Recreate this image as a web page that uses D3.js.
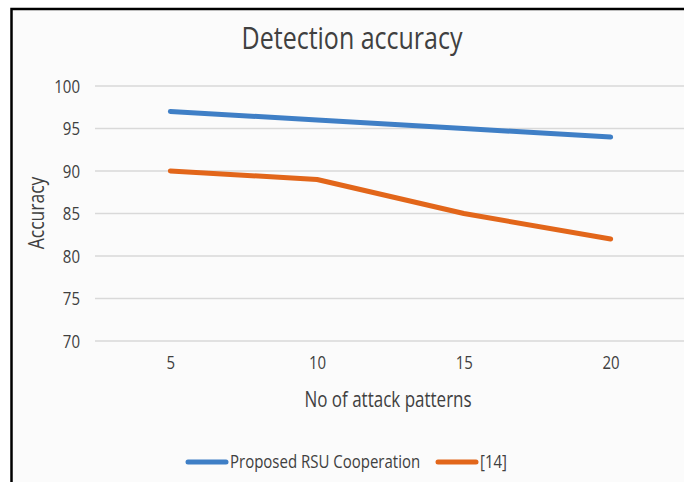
<!DOCTYPE html>
<html lang="en">
<head>
<meta charset="UTF-8">
<script src="https://d3js.org/d3.v7.min.js"></script>
<title>Detection accuracy</title>
<style>
  body { margin: 0; background: #fff; overflow: hidden; }
  svg { display: block; }
  text { font-family: "Open Sans", sans-serif; fill: #404040; }
</style>
</head>
<body>
<svg id="chart" width="684" height="482"></svg>
<script>
// data
var categories = ["5", "10", "15", "20"];
var proposed = [97, 96, 95, 94];
var ref14 = [90, 89, 85, 82];
var yTicks = [70, 75, 80, 85, 90, 95, 100];
var seriesNames = ["Proposed RSU Cooperation", "[14]"];
var seriesColors = ["#3f7fc6", "#e2661a"];

var squeeze = 0.8; // narrow, tall lettering like the original

var svg = d3.select("#chart");

// frame: light panel with a black left and top edge (cropped on the other sides)
svg.append("rect")
    .attr("x", 11.5).attr("y", 9)
    .attr("width", 700).attr("height", 500)
    .attr("fill", "#fbfbfb");
svg.append("path")
    .attr("d", "M11.5,490V9H700")
    .attr("fill", "none")
    .attr("stroke", "#000")
    .attr("stroke-width", 2.5);

var x = d3.scalePoint().domain(categories).range([97, 684]).padding(0.5);
var y = d3.scaleLinear().domain([70, 100]).range([341, 86]);

// gridlines
svg.append("g")
  .selectAll("line")
  .data(yTicks)
  .enter().append("line")
    .attr("x1", 95).attr("x2", 684)
    .attr("y1", d => y(d)).attr("y2", d => y(d))
    .attr("stroke", "#d9d9d9")
    .attr("stroke-width", 1.5);

// y axis labels
var yAxis = d3.axisLeft(y).tickValues(yTicks).tickSize(0).tickPadding(0);
var gy = svg.append("g").attr("transform", "translate(80,0)").call(yAxis);
gy.select(".domain").remove();
gy.selectAll("text")
    .attr("font-size", 15 / squeeze)
    .attr("font-family", null)
    .attr("fill", "#404040")
    .attr("transform", "scale(" + squeeze + ",1)");

// x axis labels
var xAxis = d3.axisBottom(x).tickSize(0).tickPadding(0);
var gx = svg.append("g").attr("transform", "translate(0,356)").call(xAxis);
gx.select(".domain").remove();
gx.selectAll("text")
    .attr("font-size", 15 / squeeze)
    .attr("font-family", null)
    .attr("fill", "#404040")
    .attr("transform", "scale(" + squeeze + ",1)");

// lines
var line = d3.line()
    .x((d, i) => x(categories[i]))
    .y(d => y(d));

[proposed, ref14].forEach(function(s, i) {
  svg.append("path")
      .datum(s)
      .attr("fill", "none")
      .attr("stroke", seriesColors[i])
      .attr("stroke-width", 5)
      .attr("stroke-linejoin", "round")
      .attr("stroke-linecap", "round")
      .attr("d", line);
});

function label(px, py, size, txt, anchor, rot) {
  return svg.append("text")
      .attr("transform", "translate(" + px + "," + py + ")" +
            (rot ? " rotate(" + rot + ")" : "") + " scale(" + squeeze + ",1)")
      .attr("text-anchor", anchor || "start")
      .attr("font-size", size / squeeze)
      .text(txt);
}

// titles
label(352, 49, 25, "Detection accuracy", "middle");
label(388, 407, 17, "No of attack patterns", "middle");
label(44, 213, 17.5, "Accuracy", "middle", -90);

// legend
var legendX = [188, 438];
seriesNames.forEach(function(name, i) {
  svg.append("line")
      .attr("x1", legendX[i]).attr("x2", legendX[i] + 38)
      .attr("y1", 462).attr("y2", 462)
      .attr("stroke", seriesColors[i])
      .attr("stroke-width", 5)
      .attr("stroke-linecap", "round");
  label(legendX[i] + 42, 468, 15, name);
});
</script>
</body>
</html>
